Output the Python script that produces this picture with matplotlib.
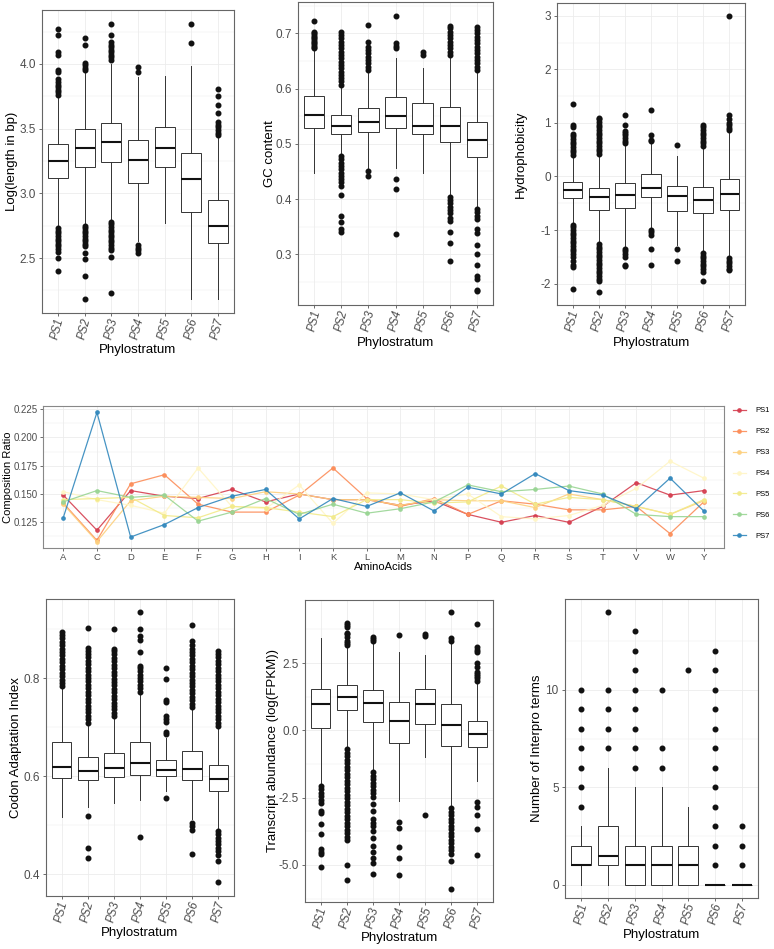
import matplotlib
matplotlib.use('Agg')
import matplotlib.pyplot as plt
from matplotlib.ticker import MultipleLocator, FormatStrFormatter

plt.rcParams['font.family'] = ['Liberation Sans', 'DejaVu Sans']
plt.rcParams['axes.unicode_minus'] = False

strata = ['PS1', 'PS2', 'PS3', 'PS4', 'PS5', 'PS6', 'PS7']

# ---------------- Log(length in bp) ----------------
len_q1 = [3.118, 3.20, 3.24, 3.08, 3.20, 2.855, 2.615]
len_med = [3.25, 3.35, 3.395, 3.26, 3.35, 3.11, 2.75]
len_q3 = [3.38, 3.50, 3.545, 3.41, 3.51, 3.315, 2.945]
len_lo = [2.74, 2.76, 2.79, 2.63, 2.77, 2.18, 2.18]
len_hi = [3.75, 3.94, 4.00, 3.90, 3.91, 3.985, 3.43]
len_out = [
    [4.27, 4.22, 4.09, 4.07, 3.95, 3.94, 3.88, 3.86, 3.84, 3.82, 3.80, 3.78, 3.76,
     2.73, 2.71, 2.69, 2.67, 2.65, 2.63, 2.61, 2.59, 2.57, 2.55, 2.50, 2.40],
    [4.20, 4.15, 4.01, 3.99, 3.97, 3.95, 2.75, 2.73, 2.71, 2.69, 2.67, 2.65, 2.63,
     2.61, 2.59, 2.54, 2.49, 2.36, 2.18],
    [4.31, 4.22, 4.17, 4.15, 4.13, 4.11, 4.09, 4.07, 4.05, 4.03, 2.78, 2.76, 2.74,
     2.72, 2.70, 2.68, 2.66, 2.64, 2.62, 2.60, 2.58, 2.56, 2.51, 2.23],
    [3.98, 3.94, 2.60, 2.58, 2.56, 2.54],
    [],
    [4.31, 4.165],
    [3.81, 3.75, 3.68, 3.62, 3.55, 3.53, 3.51, 3.49, 3.47, 3.45],
]

# ---------------- GC content ----------------
gc_q1 = [0.528, 0.517, 0.521, 0.528, 0.518, 0.504, 0.477]
gc_med = [0.553, 0.533, 0.539, 0.551, 0.533, 0.533, 0.507]
gc_q3 = [0.587, 0.552, 0.5645, 0.5855, 0.5735, 0.566, 0.539]
gc_lo = [0.448, 0.480, 0.456, 0.456, 0.4465, 0.410, 0.384]
gc_hi = [0.671, 0.604, 0.629, 0.655, 0.638, 0.655, 0.631]
gc_out = [
    [0.723, 0.703, 0.700, 0.697, 0.694, 0.691, 0.688, 0.685, 0.682, 0.679, 0.676, 0.673],
    [0.607, 0.613, 0.619, 0.625, 0.631, 0.637, 0.643, 0.649, 0.655, 0.661, 0.667, 0.673,
     0.679, 0.685, 0.691, 0.697, 0.702, 0.478, 0.472, 0.466, 0.460, 0.454, 0.448, 0.442,
     0.436, 0.430, 0.424, 0.408, 0.370, 0.358, 0.346, 0.340],
    [0.715, 0.685, 0.676, 0.670, 0.664, 0.658, 0.652, 0.646, 0.640, 0.634, 0.450, 0.442],
    [0.732, 0.683, 0.678, 0.673, 0.437, 0.418, 0.337],
    [0.667, 0.661],
    [0.661, 0.667, 0.673, 0.679, 0.685, 0.691, 0.697, 0.703, 0.709, 0.714, 0.404, 0.398,
     0.392, 0.386, 0.380, 0.374, 0.366, 0.360, 0.340, 0.320, 0.288],
    [0.634, 0.640, 0.646, 0.652, 0.658, 0.664, 0.670, 0.676, 0.682, 0.688, 0.694, 0.700,
     0.706, 0.712, 0.382, 0.376, 0.370, 0.364, 0.346, 0.339, 0.317, 0.300, 0.281, 0.260,
     0.256, 0.236, 0.233],
]

# ---------------- Hydrophobicity ----------------
hy_q1 = [-0.41, -0.62, -0.59, -0.38, -0.64, -0.68, -0.62]
hy_med = [-0.243, -0.39, -0.355, -0.21, -0.36, -0.43, -0.33]
hy_q3 = [-0.10, -0.21, -0.12, 0.04, -0.17, -0.19, -0.045]
hy_lo = [-0.875, -1.23, -1.30, -0.98, -1.28, -1.40, -1.48]
hy_hi = [0.36, 0.40, 0.58, 0.63, 0.38, 0.54, 0.82]
hy_out = [
    [1.36, 0.97, 0.93, 0.80, 0.75, 0.70, 0.65, 0.60, 0.55, 0.50, 0.45, 0.40, -0.90, -0.95,
     -1.00, -1.05, -1.10, -1.15, -1.20, -1.25, -1.30, -1.35, -1.40, -1.45, -1.50, -1.58,
     -1.65, -1.69, -2.11],
    [0.42, 0.47, 0.52, 0.57, 0.62, 0.67, 0.72, 0.77, 0.82, 0.87, 0.92, 0.97, 1.02, 1.07,
     1.10, -1.26, -1.31, -1.36, -1.41, -1.46, -1.51, -1.56, -1.61, -1.66, -1.71, -1.76,
     -1.81, -1.86, -1.91, -1.96, -2.15],
    [0.62, 0.67, 0.72, 0.77, 0.82, 0.85, 0.97, 1.15, -1.35, -1.40, -1.45, -1.50, -1.65, -1.68],
    [0.66, 0.68, 0.78, 1.25, -1.00, -1.03, -1.10, -1.35, -1.65],
    [0.58, -1.35, -1.57],
    [0.57, 0.62, 0.67, 0.72, 0.77, 0.82, 0.87, 0.92, 0.97, -1.43, -1.48, -1.53, -1.58,
     -1.63, -1.68, -1.73, -1.78, -1.95],
    [0.86, 0.91, 0.96, 1.00, 1.08, 1.14, 3.00, -1.52, -1.57, -1.62, -1.67, -1.72, -1.75],
]

# ---------------- Amino-acid composition ----------------
amino_acids = ['A', 'C', 'D', 'E', 'F', 'G', 'H', 'I', 'K', 'L',
               'M', 'N', 'P', 'Q', 'R', 'S', 'T', 'V', 'W', 'Y']
comp_ps1 = [0.149, 0.118, 0.153, 0.148, 0.146, 0.154, 0.143, 0.150, 0.145, 0.145,
            0.140, 0.144, 0.132, 0.125, 0.131, 0.125, 0.139, 0.160, 0.149, 0.153]
comp_ps2 = [0.142, 0.109, 0.159, 0.167, 0.141, 0.134, 0.134, 0.149, 0.173, 0.146,
            0.139, 0.146, 0.132, 0.144, 0.141, 0.136, 0.136, 0.139, 0.115, 0.143]
comp_ps3 = [0.141, 0.108, 0.144, 0.148, 0.147, 0.146, 0.152, 0.150, 0.145, 0.145,
            0.140, 0.145, 0.144, 0.144, 0.138, 0.150, 0.145, 0.139, 0.132, 0.144]
comp_ps4 = [0.152, 0.145, 0.140, 0.133, 0.173, 0.139, 0.137, 0.158, 0.124, 0.151,
            0.150, 0.145, 0.150, 0.130, 0.128, 0.131, 0.140, 0.155, 0.179, 0.164]
comp_ps5 = [0.145, 0.146, 0.147, 0.131, 0.129, 0.139, 0.138, 0.134, 0.130, 0.145,
            0.145, 0.142, 0.143, 0.157, 0.141, 0.147, 0.145, 0.139, 0.132, 0.145]
comp_ps6 = [0.143, 0.153, 0.147, 0.149, 0.126, 0.134, 0.146, 0.132, 0.141, 0.133,
            0.137, 0.143, 0.158, 0.152, 0.154, 0.157, 0.150, 0.132, 0.130, 0.130]
comp_ps7 = [0.129, 0.222, 0.112, 0.123, 0.138, 0.148, 0.154, 0.128, 0.146, 0.139,
            0.151, 0.135, 0.156, 0.150, 0.168, 0.153, 0.149, 0.137, 0.164, 0.135]
comp_colors = ['#D53E4F', '#FC8D59', '#FDD07E', '#FFF6C6', '#F2EA8A', '#99D594', '#3288BD']

# ---------------- Codon Adaptation Index ----------------
cai_q1 = [0.596, 0.5925, 0.598, 0.603, 0.601, 0.592, 0.570]
cai_med = [0.619, 0.611, 0.617, 0.627, 0.6136, 0.6156, 0.5953]
cai_q3 = [0.6705, 0.639, 0.647, 0.670, 0.6325, 0.6515, 0.622]
cai_lo = [0.517, 0.538, 0.546, 0.551, 0.570, 0.512, 0.493]
cai_hi = [0.780, 0.705, 0.718, 0.768, 0.678, 0.737, 0.698]
cai_out = [
    [0.783, 0.790, 0.797, 0.804, 0.811, 0.818, 0.825, 0.832, 0.839, 0.846, 0.853, 0.860,
     0.867, 0.874, 0.881, 0.888, 0.893],
    [0.709, 0.716, 0.723, 0.730, 0.737, 0.744, 0.751, 0.758, 0.765, 0.772, 0.779, 0.786,
     0.793, 0.800, 0.807, 0.814, 0.821, 0.828, 0.835, 0.842, 0.849, 0.856, 0.861, 0.901,
     0.519, 0.454, 0.433],
    [0.722, 0.729, 0.736, 0.743, 0.750, 0.757, 0.764, 0.771, 0.778, 0.785, 0.792, 0.799,
     0.806, 0.813, 0.820, 0.827, 0.834, 0.841, 0.848, 0.855, 0.859, 0.899],
    [0.772, 0.779, 0.786, 0.793, 0.800, 0.807, 0.814, 0.821, 0.824, 0.854, 0.878, 0.885,
     0.900, 0.934, 0.477],
    [0.685, 0.690, 0.710, 0.716, 0.722, 0.752, 0.755, 0.798, 0.821, 0.555],
    [0.741, 0.748, 0.755, 0.762, 0.769, 0.776, 0.783, 0.790, 0.797, 0.804, 0.811, 0.818,
     0.825, 0.832, 0.839, 0.846, 0.853, 0.860, 0.867, 0.875, 0.908, 0.505, 0.498, 0.490,
     0.442],
    [0.702, 0.709, 0.716, 0.723, 0.730, 0.737, 0.744, 0.751, 0.758, 0.765, 0.772, 0.779,
     0.786, 0.793, 0.800, 0.807, 0.814, 0.821, 0.828, 0.835, 0.842, 0.849, 0.855, 0.489,
     0.482, 0.475, 0.468, 0.461, 0.454, 0.447, 0.440, 0.427, 0.384],
]

# ---------------- Transcript abundance ----------------
tr_q1 = [0.10, 0.75, 0.31, -0.46, 0.25, -0.57, -0.62]
tr_med = [0.96, 1.24, 1.01, 0.35, 0.96, 0.19, -0.12]
tr_q3 = [1.52, 1.70, 1.50, 1.04, 1.55, 0.98, 0.35]
tr_lo = [-1.99, -0.62, -1.49, -2.64, -1.00, -2.86, -1.89]
tr_hi = [3.44, 3.12, 3.23, 2.92, 2.80, 3.26, 1.80]
tr_out = [
    [-2.05, -2.18, -2.31, -2.44, -2.57, -2.70, -2.99, -3.08, -3.48, -3.86, -4.42, -4.50,
     -4.60, -5.07],
    [3.17, 3.25, 3.33, 3.48, 3.58, 3.63, 3.83, 3.90, 3.98, -0.70, -0.83, -0.96, -1.09,
     -1.22, -1.35, -1.48, -1.61, -1.74, -1.87, -2.00, -2.13, -2.26, -2.39, -2.52, -2.65,
     -2.78, -2.91, -3.04, -3.17, -3.30, -3.43, -3.56, -3.69, -3.82, -3.95, -4.08, -5.00,
     -5.57],
    [3.30, 3.38, 3.48, -1.55, -1.68, -1.81, -1.94, -2.07, -2.20, -2.33, -2.46, -2.74,
     -2.98, -3.30, -3.43, -3.56, -3.73, -3.98, -4.28, -4.52, -4.73, -4.91, -5.32],
    [3.54, -3.42, -3.61, -4.33, -4.73, -5.37],
    [3.51, 3.59, -3.15],
    [3.33, 3.42, 4.39, -2.90, -3.03, -3.16, -3.29, -3.42, -3.55, -3.68, -3.81, -3.94,
     -4.07, -4.20, -4.33, -4.46, -4.59, -4.85, -5.90],
    [1.85, 1.93, 2.00, 2.10, 2.18, 2.35, 2.51, 2.92, 3.00, 3.10, 3.94, -2.67, -2.84,
     -3.13, -3.68, -4.64],
]

# ---------------- Number of Interpro terms ----------------
ip_q1 = [1, 1, 0, 0, 0, 0, 0]
ip_med = [1, 1.5, 1, 1, 1, 0, 0]
ip_q3 = [2, 3, 2, 2, 2, 0, 0]
ip_lo = [0, 0, 0, 0, 0, 0, 0]
ip_hi = [3, 6, 5, 5, 4, 0, 0]
ip_out = [
    [4, 5, 6, 7, 8, 9, 10],
    [7, 8, 9, 10, 14],
    [6, 7, 8, 9, 10, 11, 12, 13],
    [6, 7, 10],
    [11],
    [1, 2, 3, 4, 5, 6, 7, 8, 9, 10, 11, 12],
    [1, 2, 3],
]

W, H = 774, 949
fig = plt.figure(figsize=(W / 100, H / 100), dpi=100)


def ax_px(left, top, right, bottom):
    return fig.add_axes([left / W, 1 - bottom / H, (right - left) / W, (bottom - top) / H])


GRID = '#ececec'
FRAME = '#666666'
TICKC = '#4d4d4d'


def style_frame(ax):
    for s in ax.spines.values():
        s.set_color(FRAME)
        s.set_linewidth(0.8)
    ax.set_facecolor('white')
    ax.set_axisbelow(True)
    ax.tick_params(which='major', length=2.5, width=0.5, color='#333333',
                   labelcolor=TICKC, pad=2)
    ax.tick_params(which='minor', length=0)
    ax.grid(True, which='major', color=GRID, lw=0.6)
    ax.grid(True, which='minor', axis='y', color=GRID, lw=0.35)


def place_labels(ax, ylab_cx, xlab_cy, yfs, xfs):
    # put label centres at given pixel positions
    pos = ax.get_position()
    ax.yaxis.set_label_coords((ylab_cx + 0.62 * yfs) / W, pos.y0 + pos.height / 2,
                              transform=fig.transFigure)
    ax.xaxis.set_label_coords(pos.x0 + pos.width / 2, 1 - (xlab_cy - 0.72 * xfs) / H,
                              transform=fig.transFigure)


def box_panel(ax, q1, med, q3, lo, hi, out, ylim, major, minor, fmt, ylabel,
              ylab_cx, xlab_cy):
    stats = []
    for i in range(len(strata)):
        stats.append(dict(q1=q1[i], med=med[i], q3=q3[i], whislo=lo[i],
                          whishi=hi[i], fliers=out[i]))
    ax.bxp(stats, positions=range(1, 8), widths=0.75, showcaps=False,
           patch_artist=True,
           boxprops=dict(facecolor='white', edgecolor='#333333', linewidth=0.7),
           medianprops=dict(color='#111111', linewidth=1.5),
           whiskerprops=dict(color='#333333', linewidth=0.7),
           flierprops=dict(marker='o', markerfacecolor='#111111',
                           markeredgecolor='#111111', markersize=3.3,
                           linestyle='none'))
    ax.set_xlim(0.4, 7.6)
    ax.set_ylim(*ylim)
    ax.set_xticks(range(1, 8))
    ax.set_xticklabels(strata, rotation=75, fontsize=8.3, style='italic')
    ax.yaxis.set_major_locator(MultipleLocator(major))
    ax.yaxis.set_minor_locator(MultipleLocator(minor))
    ax.yaxis.set_major_formatter(FormatStrFormatter(fmt))
    ax.tick_params(axis='y', labelsize=8.5)
    style_frame(ax)
    ax.tick_params(axis='x', which='major', length=2, pad=0.5)
    ax.set_xlabel('Phylostratum', fontsize=9.5)
    ax.set_ylabel(ylabel, fontsize=9.5)
    place_labels(ax, ylab_cx, xlab_cy, 9.5, 9.5)


ax1 = ax_px(42, 10, 234, 313)
box_panel(ax1, len_q1, len_med, len_q3, len_lo, len_hi, len_out,
          (2.075, 4.417), 0.5, 0.25, '%.1f', 'Log(length in bp)', 12, 351)

ax2 = ax_px(298, 2, 493, 305)
box_panel(ax2, gc_q1, gc_med, gc_q3, gc_lo, gc_hi, gc_out,
          (0.208, 0.757), 0.1, 0.05, '%.1f', 'GC content', 270, 344)

ax3 = ax_px(557, 3, 745, 305)
box_panel(ax3, hy_q1, hy_med, hy_q3, hy_lo, hy_hi, hy_out,
          (-2.40, 3.24), 1, 0.5, '%d', 'Hydrophobicity', 521, 344)

ax5 = ax_px(46, 599, 234, 896)
box_panel(ax5, cai_q1, cai_med, cai_q3, cai_lo, cai_hi, cai_out,
          (0.356, 0.961), 0.2, 0.1, '%.1f', 'Codon Adaptation Index', 16, 934)

ax6 = ax_px(305, 600, 493, 902)
box_panel(ax6, tr_q1, tr_med, tr_q3, tr_lo, tr_hi, tr_out,
          (-6.375, 4.84), 2.5, 1.25, '%.1f', 'Transcript abundance (log(FPKM))', 273, 939)

ax7 = ax_px(565, 599, 758, 898)
box_panel(ax7, ip_q1, ip_med, ip_q3, ip_lo, ip_hi, ip_out,
          (-0.67, 14.66), 5, 2.5, '%d', 'Number of Interpro terms', 537, 936)

# ---------------- middle line chart ----------------
ax4 = ax_px(43, 406, 724, 548)
series = [comp_ps1, comp_ps2, comp_ps3, comp_ps4, comp_ps5, comp_ps6, comp_ps7]
xs = list(range(len(amino_acids)))
handles = []
for k, vals in enumerate(series):
    h, = ax4.plot(xs, vals, color=comp_colors[k], lw=0.9, marker='o', markersize=2.4,
                  alpha=0.9, label=strata[k])
    handles.append(h)
ax4.set_xlim(-0.6, 19.6)
ax4.set_ylim(0.1023, 0.2277)
ax4.set_xticks(xs)
ax4.set_xticklabels(amino_acids, fontsize=6.8)
ax4.yaxis.set_major_locator(MultipleLocator(0.025))
ax4.yaxis.set_minor_locator(MultipleLocator(0.0125))
ax4.yaxis.set_major_formatter(FormatStrFormatter('%.3f'))
ax4.tick_params(axis='y', labelsize=7)
style_frame(ax4)
ax4.tick_params(which='major', length=2, pad=1.5)
for s in ax4.spines.values():
    s.set_color('#888888')
ax4.set_xlabel('AminoAcids', fontsize=8)
ax4.set_ylabel('Composition Ratio', fontsize=8)
place_labels(ax4, 8, 568, 8, 8)

fig.legend(handles=handles, labels=strata, loc='upper left',
           bbox_to_anchor=(733 / W, 1 - 407 / H), frameon=False, fontsize=5.5,
           handlelength=1.7, handletextpad=1.2, labelspacing=1.78,
           borderpad=0, borderaxespad=0)

fig.savefig('out.png', dpi=100, facecolor='white')
